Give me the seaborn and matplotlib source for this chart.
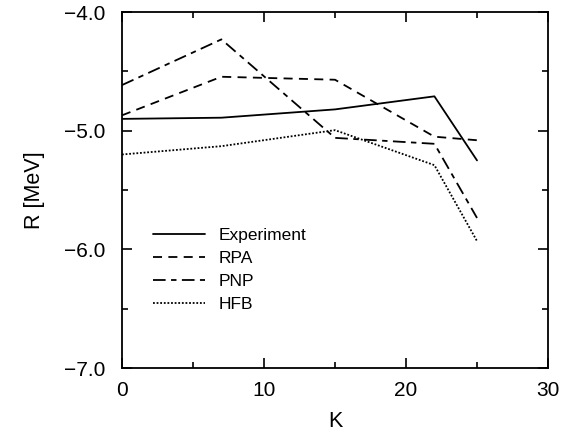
import matplotlib
matplotlib.use("Agg")
import matplotlib.pyplot as plt
import seaborn as sns
import pandas as pd
from matplotlib.ticker import MultipleLocator

K = [0, 7, 15, 22, 25]
experiment = [-4.90, -4.89, -4.82, -4.71, -5.25]
rpa = [-4.87, -4.545, -4.57, -5.05, -5.08]
pnp = [-4.615, -4.23, -5.06, -5.11, -5.735]
hfb = [-5.20, -5.13, -4.995, -5.29, -5.93]
labels = ["Experiment", "RPA", "PNP", "HFB"]

rows = []
for name, vals in zip(labels, [experiment, rpa, pnp, hfb]):
    for k, v in zip(K, vals):
        rows.append({"K": k, "R": v, "model": name})
df = pd.DataFrame(rows)

sns.set_style("ticks")
plt.rcParams['font.family'] = ['Liberation Sans', 'DejaVu Sans']
plt.rcParams['text.color'] = 'black'
plt.rcParams['axes.labelcolor'] = 'black'
plt.rcParams['xtick.color'] = 'black'
plt.rcParams['ytick.color'] = 'black'
plt.rcParams['axes.edgecolor'] = 'black'

fig = plt.figure(figsize=(5.79, 4.32), dpi=100)
ax = fig.add_axes([0.2107, 0.148, 0.7358, 0.824])

dashes = {"Experiment": "", "RPA": (5, 3.5), "PNP": (7, 3, 3, 3), "HFB": (1, 1)}
sns.lineplot(data=df, x="K", y="R", hue="model", style="model",
             palette={l: "black" for l in labels}, dashes=dashes,
             hue_order=labels, style_order=labels, linewidth=1.3, ax=ax)

ax.set_xlim(0, 30)
ax.set_ylim(-7.0, -4.0)
ax.xaxis.set_major_locator(MultipleLocator(10))
ax.xaxis.set_minor_locator(MultipleLocator(5))
ax.yaxis.set_major_locator(MultipleLocator(1.0))
ax.yaxis.set_minor_locator(MultipleLocator(0.5))
ax.yaxis.set_major_formatter(matplotlib.ticker.FuncFormatter(lambda v, p: f"\u2212{abs(v):.1f}"))
ax.tick_params(which="both", direction="in", top=True, right=True, width=1.2,
               labelsize=15, colors="black")
ax.tick_params(axis="x", pad=9)
ax.tick_params(axis="y", pad=12)
ax.tick_params(which="major", length=7)
ax.tick_params(which="minor", length=4)
for s in ax.spines.values():
    s.set_linewidth(1.3)
    s.set_visible(True)
    s.set_color("black")
ax.set_xlabel("K", fontsize=15.5, labelpad=8)
ax.set_ylabel("R [MeV]", fontsize=15.5, labelpad=14)

leg = ax.legend(frameon=False, loc="upper left", bbox_to_anchor=(0.035, 0.437),
                fontsize=12.5, handlelength=3.0, labelspacing=0.45, handletextpad=0.8)

fig.savefig("out.png", dpi=100)
